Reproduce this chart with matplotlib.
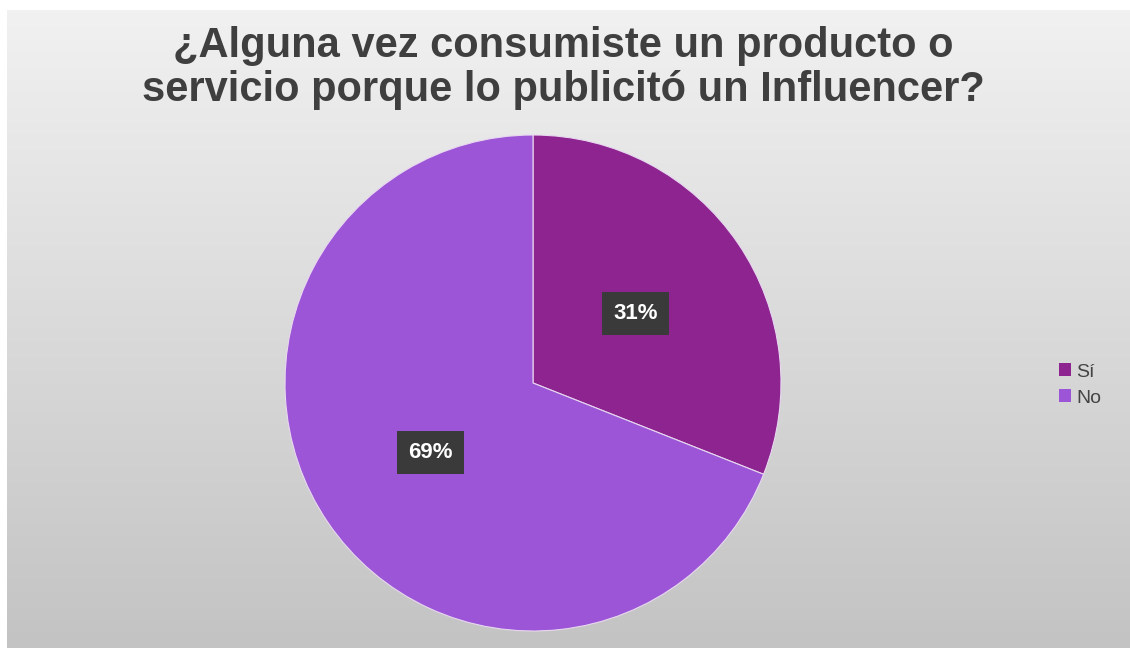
import numpy as np
import matplotlib
matplotlib.use("Agg")
import matplotlib.pyplot as plt
from matplotlib.patches import Patch

categories = ["Sí", "No"]
values = [31, 69]
colors = ["#8E2490", "#9B55D6"]
title = "¿Alguna vez consumiste un producto o\nservicio porque lo publicitó un Influencer?"

W, H = 1130, 648
fig = plt.figure(figsize=(W / 100, H / 100), dpi=100)
fig.patch.set_facecolor("white")

# gradient backdrop panel
bg = fig.add_axes([7 / W, 0, 1 - 7 / W, 1 - 10 / H])
bg.set_axis_off()
ny, nx = 200, 200
yy = np.linspace(0, 1, ny)[:, None]
top = np.array([0xF1, 0xF1, 0xF1]) / 255
bot = np.array([0xC3, 0xC3, 0xC3]) / 255
t = np.broadcast_to(yy, (ny, nx))
grad = top[None, None, :] * (1 - t[..., None]) + bot[None, None, :] * t[..., None]
bg.imshow(grad, aspect="auto", extent=[0, 1, 0, 1], origin="upper")
bg.set_xlim(0, 1)
bg.set_ylim(0, 1)

fig.text(563 / W, 1 - 68 / H, title, ha="center", va="center",
         fontsize=30, fontweight="bold", color="#3F3F3F",
         family="Liberation Sans", linespacing=1.1)

# pie
cx, cy, r = 533, 383, 248
ax = fig.add_axes([(cx - r) / W, 1 - (cy + r) / H, 2 * r / W, 2 * r / H])
wedges, _, autotexts = ax.pie(
    values, colors=colors, startangle=90, counterclock=False,
    autopct=lambda p: f"{p:.0f}%", pctdistance=0.5,
    wedgeprops=dict(edgecolor="#E8D8F0", linewidth=0.8),
    textprops=dict(color="white", fontsize=16, fontweight="bold",
                   family="Liberation Sans"),
)
for tx in autotexts:
    tx.set_bbox(dict(boxstyle="square,pad=0.5", facecolor="#3A3A3A",
                     edgecolor="none"))
ax.set_aspect("equal")
ax.set_xlim(-1, 1)
ax.set_ylim(-1, 1)

handles = [Patch(facecolor=c, edgecolor="none") for c in colors]
fig.legend(handles, categories, loc="center left",
           bbox_to_anchor=(1049 / W, 1 - 385 / H), frameon=False,
           prop=dict(family="Liberation Sans", size=14),
           handlelength=0.65, handleheight=0.65, handletextpad=0.25,
           labelspacing=0.45, labelcolor="#444444", borderpad=0)

fig.savefig("out.png", dpi=100, facecolor=fig.get_facecolor())
